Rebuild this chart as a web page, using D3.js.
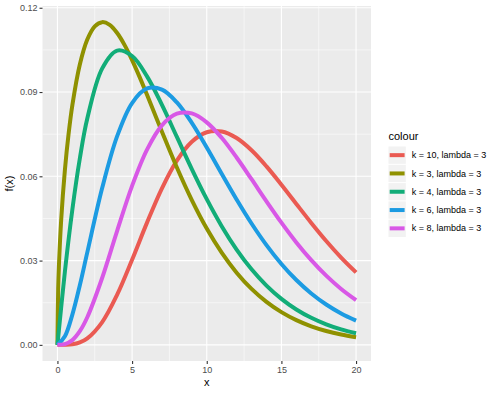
<!DOCTYPE html>
<html>
<head>
<meta charset="utf-8">
<script src="https://cdn.jsdelivr.net/npm/d3@7"></script>
<style>
  body { margin: 0; background: #ffffff; }
  text { font-family: "Liberation Sans", Arial, Helvetica, sans-serif; }
</style>
</head>
<body>
<svg id="chart" width="500" height="395"></svg>
<script>
// ---------------- data ----------------
const seriesLabels = ["k = 10, lambda = 3", "k = 3, lambda = 3", "k = 4, lambda = 3", "k = 6, lambda = 3", "k = 8, lambda = 3"];

// x positions for the k = 3 curve (denser near 0 where it rises steeply)
const xK3 = [0, 0.05, 0.1, 0.25, 0.5, 0.75, 1, 1.5, 2, 2.5, 3, 3.5, 4, 4.5, 5, 5.5, 6,
             7, 8, 9, 10, 11, 12, 13, 14, 15, 16, 17, 18, 19, 20];
const yK3 = [0, 0.01990, 0.02814, 0.04438, 0.06223, 0.07521, 0.08534, 0.09980, 0.10868, 0.11338,
             0.11488, 0.11389, 0.11099, 0.10669, 0.10138, 0.09540, 0.08901,
             0.07586, 0.06314, 0.05155, 0.04141, 0.03282, 0.02570, 0.01991, 0.01529,
             0.01164, 0.00880, 0.00660, 0.00493, 0.00366, 0.00270];

// x positions for the other curves
const xOther = [0, 0.5, 1, 1.5, 2, 3, 4, 5, 6, 7, 8, 9, 10, 11, 12, 13, 14, 15, 16, 17, 18, 19, 20];
const yK4  = [0, 0.02606, 0.04821, 0.06634, 0.08056, 0.09842, 0.10474, 0.10282, 0.09559, 0.08541,
              0.07401, 0.06258, 0.05186, 0.04225, 0.03393, 0.02690, 0.02110, 0.01638, 0.01261,
              0.00963, 0.00730, 0.00550, 0.00412];
const yK6  = [0, 0.00307, 0.01078, 0.02122, 0.03291, 0.05589, 0.07429, 0.08608, 0.09126, 0.09086,
              0.08630, 0.07901, 0.07023, 0.06091, 0.05175, 0.04320, 0.03551, 0.02880, 0.02308,
              0.01830, 0.01438, 0.01119, 0.00864];
const yK8  = [0, 0.00025, 0.00169, 0.00487, 0.00982, 0.02389, 0.04060, 0.05660, 0.06950, 0.07814,
              0.08228, 0.08238, 0.07921, 0.07370, 0.06670, 0.05897, 0.05110, 0.04351, 0.03647,
              0.03016, 0.02463, 0.01989, 0.01591];
const yK10 = [0, 0.00002, 0.00020, 0.00087, 0.00229, 0.00811, 0.01785, 0.03028, 0.04351, 0.05573,
              0.06557, 0.07229, 0.07568, 0.07595, 0.07361, 0.06926, 0.06353, 0.05701, 0.05017,
              0.04341, 0.03699, 0.03109, 0.02581];

const xTicks = [0, 5, 10, 15, 20];
const xMinor = [2.5, 7.5, 12.5, 17.5];
const yTicks = [0, 0.03, 0.06, 0.09, 0.12];
const yMinor = [0.015, 0.045, 0.075, 0.105];

// ---------------- styles ----------------
const colors = ["#EA5A52", "#8F9100", "#12AD78", "#1C9BE2", "#D858E6"];
const panel = { left: 42.5, right: 371, top: 6, bottom: 361 };
const lineWidth = 4;

const series = [
  { label: seriesLabels[0], xs: xOther, ys: yK10 },
  { label: seriesLabels[1], xs: xK3,    ys: yK3  },
  { label: seriesLabels[2], xs: xOther, ys: yK4  },
  { label: seriesLabels[3], xs: xOther, ys: yK6  },
  { label: seriesLabels[4], xs: xOther, ys: yK8  }
].map((s, i) => ({ ...s, color: colors[i], pts: s.xs.map((x, j) => [x, s.ys[j]]) }));

const svg = d3.select("#chart");

// scales with ggplot-style 5% expansion
const allX = series.flatMap(s => s.xs), allY = series.flatMap(s => s.ys);
const xr = d3.extent(allX), yr = d3.extent(allY);
const xPad = (xr[1] - xr[0]) * 0.05, yPad = (yr[1] - yr[0]) * 0.05;
const x = d3.scaleLinear().domain([xr[0] - xPad, xr[1] + xPad]).range([panel.left, panel.right]);
const y = d3.scaleLinear().domain([yr[0] - yPad, yr[1] + yPad]).range([panel.bottom, panel.top]);

// panel background
svg.append("rect")
  .attr("x", panel.left).attr("y", panel.top)
  .attr("width", panel.right - panel.left).attr("height", panel.bottom - panel.top)
  .attr("fill", "#EBEBEB");

const grid = svg.append("g");
grid.selectAll(".vminor").data(xMinor).join("line")
  .attr("x1", d => x(d)).attr("x2", d => x(d)).attr("y1", panel.top).attr("y2", panel.bottom)
  .attr("stroke", "#fff").attr("stroke-width", 0.55);
grid.selectAll(".hminor").data(yMinor).join("line")
  .attr("y1", d => y(d)).attr("y2", d => y(d)).attr("x1", panel.left).attr("x2", panel.right)
  .attr("stroke", "#fff").attr("stroke-width", 0.55);
grid.selectAll(".vmajor").data(xTicks).join("line")
  .attr("x1", d => x(d)).attr("x2", d => x(d)).attr("y1", panel.top).attr("y2", panel.bottom)
  .attr("stroke", "#fff").attr("stroke-width", 1.1);
grid.selectAll(".hmajor").data(yTicks).join("line")
  .attr("y1", d => y(d)).attr("y2", d => y(d)).attr("x1", panel.left).attr("x2", panel.right)
  .attr("stroke", "#fff").attr("stroke-width", 1.1);

// curves
const line = d3.line().x(d => x(d[0])).y(d => y(d[1])).curve(d3.curveCatmullRom.alpha(0.5));
const clipId = "panelClip";
svg.append("clipPath").attr("id", clipId).append("rect")
  .attr("x", panel.left).attr("y", panel.top)
  .attr("width", panel.right - panel.left).attr("height", panel.bottom - panel.top);
svg.append("g").attr("clip-path", `url(#${clipId})`)
  .selectAll("path").data(series).join("path")
  .attr("d", d => line(d.pts))
  .attr("fill", "none")
  .attr("stroke", d => d.color)
  .attr("stroke-width", lineWidth)
  .attr("stroke-linejoin", "round")
  .attr("stroke-linecap", "butt");

// axes
const xAxis = svg.append("g").attr("transform", `translate(0,${panel.bottom})`)
  .call(d3.axisBottom(x).tickValues(xTicks).tickFormat(d3.format("d")).tickSize(3).tickPadding(2.5));
const yAxis = svg.append("g").attr("transform", `translate(${panel.left},0)`)
  .call(d3.axisLeft(y).tickValues(yTicks).tickFormat(d3.format(".2f")).tickSize(3).tickPadding(2));
[xAxis, yAxis].forEach(g => {
  g.select(".domain").remove();
  g.selectAll(".tick line").attr("stroke", "#333333").attr("stroke-width", 1.1);
  g.selectAll(".tick text").attr("fill", "#4D4D4D").style("font-size", "9px")
    .style("font-family", "'Liberation Sans', Arial, sans-serif");
});

// axis titles
svg.append("text").attr("x", (panel.left + panel.right) / 2).attr("y", 386)
  .attr("text-anchor", "middle").style("font-size", "11px").attr("fill", "#000").text("x");
svg.append("text").attr("transform", `translate(12.5,${(panel.top + panel.bottom) / 2}) rotate(-90)`)
  .attr("text-anchor", "middle").style("font-size", "11px").attr("fill", "#000").text("f(x)");

// legend
const lg = svg.append("g").attr("transform", "translate(388.5,146.5)");
lg.append("text").attr("x", 0).attr("y", -7).style("font-size", "11px").attr("fill", "#000").text("colour");
const keySize = 17.3, keyStep = 18.3;
const item = lg.selectAll(".item").data(series).join("g")
  .attr("transform", (d, i) => `translate(0,${i * keyStep})`);
item.append("rect").attr("width", keySize).attr("height", keySize).attr("fill", "#F2F2F2");
item.append("line").attr("x1", 1.2).attr("x2", keySize - 1.2)
  .attr("y1", keySize / 2).attr("y2", keySize / 2)
  .attr("stroke", d => d.color).attr("stroke-width", lineWidth);
item.append("text").attr("x", keySize + 6).attr("y", keySize / 2).attr("dy", "0.35em")
  .style("font-size", "9px").attr("fill", "#000").text(d => d.label);
</script>
</body>
</html>
